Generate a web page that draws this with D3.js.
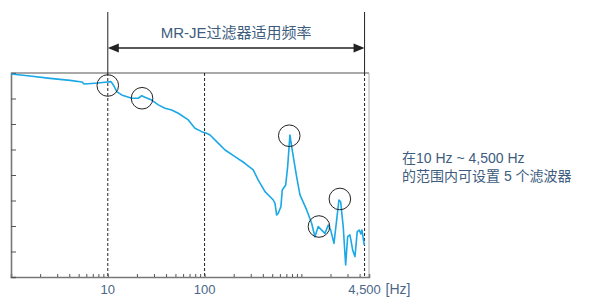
<!DOCTYPE html>
<html>
<head>
<meta charset="utf-8">
<script src="https://cdn.jsdelivr.net/npm/d3@7"></script>
<style>
  body { margin: 0; background: #fff; }
  text { font-family: "Liberation Sans", "Noto Sans CJK SC", sans-serif; }
</style>
</head>
<body>
<div id="chart"></div>
<script>
// frequency response (Hz, dB)
const freqs = [1, 1.57, 2.53, 4.07, 5.41, 5.68, 6.24, 7.92, 9.35, 10.8, 11.4, 12.4, 13.9, 17.7, 20.7,
  22.4, 24.2, 28.4, 33.3, 39, 45.7, 53.5, 67.9, 79.6, 93.3, 105, 114, 139, 163, 206, 261, 318, 359,
  421, 513, 534, 556, 577, 615, 635, 689, 722, 762, 794, 859, 894, 968, 1135, 1277, 1381, 1495,
  1621, 1753, 1897, 2009, 2174, 2317, 2445, 2546, 2709, 2869, 3009, 3178, 3388, 3580, 3779, 3962,
  4127, 4229, 4467];
const gains = [-0.4, -1.2, -2.1, -2.9, -3.5, -4.3, -4.2, -3.9, -3.6, -3.4, -4.7, -7.3, -8.6, -9.9, -9.9,
  -8.9, -9.5, -10.6, -12.5, -13.8, -14.5, -15.8, -18.4, -21.7, -23.0, -23.6, -24.3, -27.6, -30.2, -32.8,
  -35.4, -38.0, -42.0, -46.5, -49.8, -51.1, -55.7, -55.0, -52.4, -45.9, -43.9, -36.7, -24.3, -28.9,
  -36.7, -40.7, -47.8, -53.7, -58.9, -64.2, -60.2, -61.6, -62.9, -59.6, -61.6, -66.8, -57.6, -49.8,
  -50.5, -60.3, -75.3, -64.2, -63.5, -69.4, -72.0, -62.2, -61.6, -63.1, -61.6, -67.5];

// resonance points marked with circles
const markFreqs = [10, 22.6, 750, 1520, 2500];
const markGains = [-4.9, -9.9, -24.6, -60.2, -49.4];

const bandLow = 10;
const bandHigh = 4500;
const xLabels = [10, 100, 4500];
const yTicks = [0, -10, -20, -30, -40, -50, -60, -70, -80];

const titleText = 'MR-JE过滤器适用频率';
const noteLines = ['在10 Hz ~ 4,500 Hz', '的范围内可设置 5 个滤波器'];

const width = 595;
const height = 298;
const margin = { top: 73, right: 226, bottom: 21, left: 11 };
const innerWidth = width - margin.left - margin.right;
const innerHeight = height - margin.top - margin.bottom;

const svg = d3.select('#chart')
  .append('svg')
  .attr('width', width)
  .attr('height', height);

const g = svg.append('g')
  .attr('transform', 'translate(' + margin.left + ',' + margin.top + ')');

const x = d3.scaleLog()
  .domain([1, 5000])
  .range([0, innerWidth]);

const y = d3.scaleLinear()
  .domain([-80, 0])
  .range([innerHeight, 0]);

const minorTicks = [];
for (let dec = 1; dec <= 1000; dec *= 10) {
  for (let k = 1; k <= 9; k++) {
    const v = dec * k;
    if (v > 1 && v < 5000) minorTicks.push(v);
  }
}

// frame
g.append('line')
  .attr('x1', 0).attr('x2', innerWidth)
  .attr('y1', 0).attr('y2', 0)
  .attr('stroke', '#8c8c8c').attr('stroke-width', 1.6);
g.append('line')
  .attr('x1', innerWidth).attr('x2', innerWidth)
  .attr('y1', 0).attr('y2', innerHeight)
  .attr('stroke', '#999').attr('stroke-width', 0.8);

// dashed guides
[bandLow, 100, bandHigh].forEach(v => {
  g.append('line')
    .attr('x1', x(v)).attr('x2', x(v))
    .attr('y1', 0).attr('y2', innerHeight)
    .attr('stroke', '#222')
    .attr('stroke-width', 1)
    .attr('stroke-dasharray', '3,2');
});

// axes with inward ticks, no labels
const xAxis = d3.axisBottom(x)
  .tickValues(minorTicks)
  .tickSize(-3)
  .tickFormat('');
g.append('g')
  .attr('class', 'x-axis')
  .attr('transform', 'translate(0,' + innerHeight + ')')
  .call(xAxis)
  .call(a => a.select('.domain').attr('stroke', '#777').attr('stroke-width', 1.6))
  .call(a => a.selectAll('.tick line').attr('stroke', '#555'))
  .call(a => a.selectAll('.tick text').remove());

const yAxis = d3.axisLeft(y)
  .tickValues(yTicks)
  .tickSize(-5)
  .tickFormat('');
g.append('g')
  .attr('class', 'y-axis')
  .call(yAxis)
  .call(a => a.select('.domain').attr('stroke', '#777').attr('stroke-width', 1.6))
  .call(a => a.selectAll('.tick line').attr('stroke', '#555'))
  .call(a => a.selectAll('.tick text').remove());

// tick labels
g.selectAll('.x-label')
  .data(xLabels)
  .enter()
  .append('text')
  .attr('class', 'x-label')
  .attr('x', d => x(d))
  .attr('y', innerHeight + 17)
  .attr('text-anchor', 'middle')
  .attr('font-size', 13)
  .attr('fill', '#4a6788')
  .text(d => d3.format(',')(d));

g.append('text')
  .attr('x', x(bandHigh) + 21)
  .attr('y', innerHeight + 17)
  .attr('font-size', 14)
  .attr('fill', '#4a6788')
  .text('[Hz]');

// response curve
const line = d3.line()
  .x((d, i) => x(freqs[i]))
  .y(d => y(d));

g.append('path')
  .datum(gains)
  .attr('fill', 'none')
  .attr('stroke', '#1ba8e6')
  .attr('stroke-width', 1.6)
  .attr('stroke-linejoin', 'round')
  .attr('d', line);

// circles
g.selectAll('.mark')
  .data(markFreqs)
  .enter()
  .append('circle')
  .attr('class', 'mark')
  .attr('cx', d => x(d))
  .attr('cy', (d, i) => y(markGains[i]))
  .attr('r', 10.8)
  .attr('fill', 'none')
  .attr('stroke', '#222')
  .attr('stroke-width', 1);

// band annotation above the plot
const ann = svg.append('g');
[bandLow, bandHigh].forEach(v => {
  ann.append('line')
    .attr('x1', margin.left + x(v)).attr('x2', margin.left + x(v))
    .attr('y1', 12).attr('y2', margin.top)
    .attr('stroke', '#222').attr('stroke-width', 1);
});

const ay = 48;
const ax1 = margin.left + x(bandLow);
const ax2 = margin.left + x(bandHigh);
ann.append('line')
  .attr('x1', ax1 + 8).attr('x2', ax2 - 8)
  .attr('y1', ay).attr('y2', ay)
  .attr('stroke', '#222').attr('stroke-width', 1.6);
ann.append('path')
  .attr('d', 'M' + ax1 + ',' + ay + 'L' + (ax1 + 11) + ',' + (ay - 4.5) + 'L' + (ax1 + 11) + ',' + (ay + 4.5) + 'Z')
  .attr('fill', '#222');
ann.append('path')
  .attr('d', 'M' + ax2 + ',' + ay + 'L' + (ax2 - 11) + ',' + (ay - 4.5) + 'L' + (ax2 - 11) + ',' + (ay + 4.5) + 'Z')
  .attr('fill', '#222');

ann.append('text')
  .attr('x', (ax1 + ax2) / 2)
  .attr('y', 38)
  .attr('text-anchor', 'middle')
  .attr('font-size', 15)
  .attr('fill', '#3d5c7e')
  .text(titleText);

// side note
svg.selectAll('.note')
  .data(noteLines)
  .enter()
  .append('text')
  .attr('class', 'note')
  .attr('x', 402)
  .attr('y', (d, i) => 163 + i * 18)
  .attr('font-size', 14)
  .attr('fill', '#3d5c7e')
  .text(d => d);
</script>
</body>
</html>
